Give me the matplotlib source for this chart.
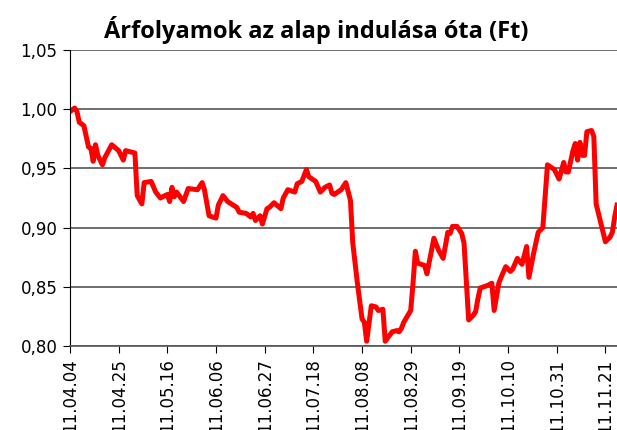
import numpy as np
import pandas as pd
import matplotlib.pyplot as plt
import matplotlib.dates as mdates
from matplotlib.ticker import FuncFormatter

# days since fund start (2011-04-04) and price in Ft
start = pd.Timestamp('2011-04-04')
days = [0, 2, 3, 4, 6, 8, 9, 10, 11, 12, 14, 15, 18, 21, 23, 24, 28, 29, 31, 32,
        35, 37, 39, 42, 43, 44, 45, 46, 49, 51, 55, 57, 58, 60, 63, 64, 66, 68, 72, 73,
        76, 78, 79, 80, 82, 83, 85, 86, 88, 91, 92, 94, 97, 98, 100, 102, 103, 106, 108, 110,
        112, 113, 114, 117, 119, 121, 122, 124, 126, 127, 128, 130, 132, 133, 135, 136, 139, 141, 142, 143,
        144, 147, 148, 149, 150, 153, 154, 157, 159, 161, 163, 164, 165, 167, 169, 170, 172, 174, 175, 176,
        177, 180, 182, 183, 185, 186, 188, 190, 191, 193, 195, 197, 198, 200, 202, 204, 206, 209, 211, 213,
        214, 215, 217, 218, 219, 220, 221, 222, 223, 225, 226, 227, 230, 231, 233, 234, 235, 236]
prices = [0.998, 1.001, 0.998, 0.989, 0.986, 0.968, 0.967, 0.956, 0.970, 0.961, 0.953, 0.959, 0.970, 0.965, 0.957, 0.965, 0.963, 0.927, 0.920, 0.938,
          0.939, 0.930, 0.925, 0.928, 0.922, 0.934, 0.926, 0.930, 0.922, 0.933, 0.932, 0.938, 0.932, 0.910, 0.908, 0.919, 0.927, 0.922, 0.917, 0.913,
          0.912, 0.909, 0.912, 0.906, 0.910, 0.903, 0.916, 0.917, 0.921, 0.916, 0.925, 0.932, 0.930, 0.937, 0.939, 0.949, 0.943, 0.939, 0.930, 0.934,
          0.936, 0.929, 0.928, 0.932, 0.938, 0.923, 0.887, 0.853, 0.823, 0.820, 0.804, 0.834, 0.833, 0.830, 0.831, 0.804, 0.812, 0.813, 0.812, 0.815,
          0.820, 0.830, 0.853, 0.880, 0.870, 0.868, 0.861, 0.891, 0.881, 0.874, 0.896, 0.895, 0.901, 0.901, 0.895, 0.887, 0.822, 0.826, 0.829, 0.840,
          0.849, 0.851, 0.853, 0.830, 0.853, 0.858, 0.867, 0.863, 0.865, 0.874, 0.869, 0.884, 0.858, 0.878, 0.896, 0.900, 0.953, 0.949, 0.941, 0.955,
          0.947, 0.947, 0.965, 0.971, 0.957, 0.972, 0.961, 0.961, 0.981, 0.982, 0.977, 0.920, 0.896, 0.888, 0.892, 0.896, 0.909, 0.919]

dates = start + pd.to_timedelta(days, unit='D')
tick_dates = pd.date_range(start, periods=12, freq='21D')

fig = plt.figure(figsize=(6.17, 4.30), dpi=100)
ax = fig.add_axes([70/617, 1-346/430, 1-70/617, (346-50)/430])

ax.plot(dates, prices, color='#ff0000', lw=3.6, solid_joinstyle='round')

ax.set_ylim(0.80, 1.05)
ax.set_yticks(np.arange(0.80, 1.051, 0.05))
ax.yaxis.set_major_formatter(FuncFormatter(lambda v, p: ('%.2f' % v).replace('.', ',')))
ax.set_xlim(start, start + pd.Timedelta(days=236))
ax.set_xticks(tick_dates)
ax.xaxis.set_major_formatter(mdates.DateFormatter('%y.%m.%d'))

ax.grid(axis='y', color='#555555', lw=1.2)
ax.set_axisbelow(True)
for s in ['top', 'right']:
    ax.spines[s].set_visible(False)
ax.spines['left'].set_color('black')
ax.spines['bottom'].set_color('#555555')
ax.spines['bottom'].set_linewidth(1.2)
ax.tick_params(axis='y', length=5, labelsize=12, pad=4, colors='black')
ax.tick_params(axis='x', length=5, labelsize=12, labelrotation=90, pad=4, colors='black')
for lab in ax.get_xticklabels() + ax.get_yticklabels():
    lab.set_fontfamily('DejaVu Sans')

fig.text(0.512, 0.93, 'Árfolyamok az alap indulása óta (Ft)', ha='center', va='center',
         fontsize=17, fontweight='bold', family='Open Sans')

plt.savefig('out.png', dpi=100)
